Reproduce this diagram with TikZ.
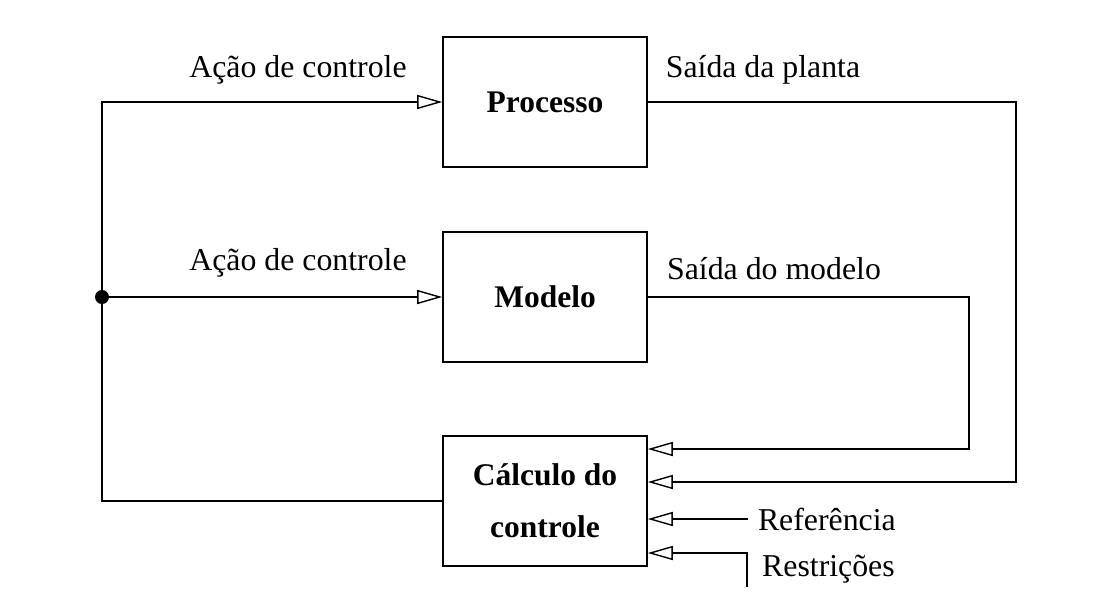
\documentclass[tikz,border=0pt]{standalone}
\usepackage{fontspec}
\setmainfont{Liberation Serif}
\usetikzlibrary{arrows.meta,positioning}

\tikzset{
  block/.style={draw, line width=1.6pt, minimum width=204pt, minimum height=130pt,
    align=center, font=\bfseries\fontsize{31.5}{52}\selectfont},
  sig/.style={line width=1.6pt, -{Triangle[open, length=25pt, width=14pt, line width=1.4pt]}},
  wire/.style={line width=1.6pt},
  lbl/.style={font=\fontsize{31.8}{38}\selectfont, inner xsep=10pt}
}

\begin{document}
\begin{tikzpicture}[x=1pt, y=-1pt]
  \useasboundingbox (0,0) rectangle (1116,595);

  % Blocks
  \node[block] (processo) at (545,102) {Processo};
  \node[block] (modelo) at (545,297) {Modelo};
  \node[block] (calculo) at (545,501) {Cálculo do\\controle};

  % Inputs of the controller
  \coordinate (in1) at ([yshift=52pt]calculo.east);
  \coordinate (in2) at ([yshift=19pt]calculo.east);
  \coordinate (in3) at ([yshift=-18pt]calculo.east);
  \coordinate (in4) at ([yshift=-52pt]calculo.east);

  % Control action branch
  \coordinate (junction) at (102,297);
  \draw[wire] (calculo.west) -| (junction);
  \draw[sig] (junction) |- (processo.west);
  \draw[sig] (junction) -- (modelo.west);
  \fill (junction) circle (7pt);

  % Outputs fed back
  \draw[sig] (processo.east) -- ++(368,0) |- (in2);
  \draw[sig] (modelo.east) -- ++(321,0) |- (in1);

  % Reference and constraints
  \node[lbl, right=100pt of in3] (ref) {Referência};
  \draw[sig] (ref.west) -- (in3);
  \coordinate (resbase) at (747,587);
  \node[lbl, anchor=base west] (res) at (752,576) {Restrições};
  \draw[sig] (resbase) |- (in4);

  % Labels
  \node[lbl, anchor=base] (acao1) at (298,77) {Ação de controle};
  \node[lbl, anchor=base] (acao2) at (298,270) {Ação de controle};
  \node[lbl, anchor=base] (saida1) at (763,77) {Saída da planta};
  \node[lbl, anchor=base] (saida2) at (774,279) {Saída do modelo};

\end{tikzpicture}
\end{document}
